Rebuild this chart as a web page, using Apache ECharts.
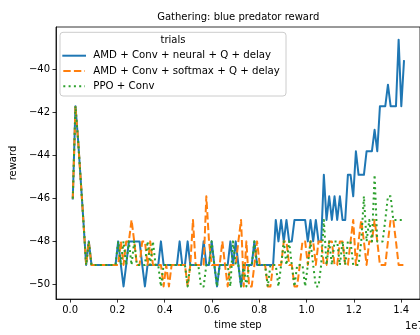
<!DOCTYPE html>
<html><head><meta charset="utf-8">
<script src="https://cdn.jsdelivr.net/npm/echarts@6/dist/echarts.min.js"></script>
<style>html,body{margin:0;padding:0;background:#fff}#c{width:420px;height:335px}</style>
</head><body><div id="c"></div>
<script>
// time step in units of 1e7
const timeStep = [
0.0110,0.0223,0.0336,0.0449,0.0562,0.0675,0.0788,0.0901,0.1014,0.1127,
0.1240,0.1353,0.1466,0.1579,0.1692,0.1805,0.1918,0.2031,0.2144,0.2257,
0.2370,0.2483,0.2596,0.2709,0.2822,0.2935,0.3048,0.3161,0.3274,0.3387,
0.3500,0.3613,0.3726,0.3839,0.3952,0.4065,0.4178,0.4291,0.4404,0.4517,
0.4630,0.4743,0.4856,0.4969,0.5082,0.5195,0.5308,0.5421,0.5534,0.5647,
0.5760,0.5873,0.5986,0.6099,0.6212,0.6325,0.6438,0.6551,0.6664,0.6777,
0.6890,0.7003,0.7116,0.7229,0.7342,0.7455,0.7568,0.7681,0.7794,0.7907,
0.8020,0.8133,0.8246,0.8359,0.8472,0.8585,0.8698,0.8811,0.8924,0.9037,
0.9150,0.9263,0.9376,0.9489,0.9602,0.9715,0.9828,0.9941,1.0054,1.0167,
1.0280,1.0393,1.0506,1.0619,1.0732,1.0845,1.0958,1.1071,1.1184,1.1297,
1.1410,1.1523,1.1636,1.1749,1.1862,1.1975,1.2088,1.2201,1.2314,1.2427,
1.2540,1.2653,1.2766,1.2879,1.2992,1.3105,1.3218,1.3331,1.3444,1.3557,
1.3670,1.3783,1.3896,1.4009,1.4122];

const seriesNames = ['AMD + Conv + neural + Q + delay', 'AMD + Conv + softmax + Q + delay', 'PPO + Conv'];

const rewardNeural = [
-46.0,-41.7,-43.3,-45.2,-47.1,-49.1,-48.0,-49.1,-49.1,-49.1,
-49.1,-49.1,-49.1,-49.1,-49.1,-49.1,-49.1,-48.0,-49.1,-50.1,
-49.1,-48.0,-48.0,-48.0,-48.0,-48.0,-49.1,-50.1,-49.1,-49.1,
-49.1,-49.1,-49.1,-48.0,-49.1,-49.1,-49.1,-49.1,-49.1,-49.1,
-48.0,-49.1,-49.1,-48.0,-49.1,-49.1,-49.1,-49.1,-49.1,-48.0,
-49.1,-49.1,-48.0,-49.1,-50.1,-49.1,-49.1,-49.1,-49.1,-48.0,
-49.1,-48.0,-49.1,-50.1,-49.1,-49.1,-49.1,-49.1,-48.0,-49.1,
-49.1,-49.1,-49.1,-49.1,-49.1,-49.1,-47.0,-48.0,-47.0,-48.0,
-47.0,-48.0,-48.0,-47.0,-47.0,-47.0,-47.0,-47.0,-48.0,-47.0,
-48.0,-47.0,-48.0,-48.0,-44.9,-47.0,-45.9,-47.0,-45.9,-47.0,
-45.9,-47.0,-47.0,-44.9,-44.9,-45.9,-43.8,-44.9,-44.9,-44.9,
-43.8,-43.8,-43.8,-42.8,-43.8,-41.7,-41.7,-41.7,-40.7,-41.7,
-41.7,-41.7,-38.6,-41.7,-39.6];

const rewardSoftmax = [
-46.0,-41.7,-43.3,-45.2,-47.1,-49.1,-48.0,-49.1,-49.1,-49.1,
-49.1,-49.1,-49.1,-49.1,-49.1,-49.1,-49.1,-49.1,-48.0,-49.1,
-48.0,-48.0,-47.0,-48.0,-49.1,-49.1,-48.0,-48.0,-49.1,-48.0,
-49.1,-49.1,-49.1,-49.1,-50.1,-49.1,-50.1,-49.1,-49.1,-49.1,
-49.1,-49.1,-49.1,-50.1,-49.1,-47.0,-49.1,-49.1,-49.1,-49.1,
-45.9,-48.0,-49.1,-49.1,-49.1,-49.1,-48.0,-49.1,-50.1,-49.1,
-49.1,-49.1,-48.0,-47.0,-50.1,-48.0,-50.1,-50.1,-49.1,-48.0,
-49.1,-49.1,-49.1,-50.1,-50.1,-49.1,-49.1,-49.1,-49.1,-48.0,
-48.0,-49.1,-49.1,-50.1,-50.1,-49.1,-48.0,-48.0,-49.1,-48.0,
-48.0,-49.1,-48.0,-48.0,-49.1,-49.1,-48.0,-48.0,-49.1,-49.1,
-48.0,-48.0,-49.1,-49.1,-48.0,-47.0,-49.1,-48.0,-47.0,-48.0,
-49.1,-48.0,-48.0,-47.0,-48.0,-49.1,-49.1,-49.1,-48.0,-47.0,
-47.0,-48.0,-49.1,-49.1,-49.1];

const rewardPPO = [
-46.0,-41.7,-43.3,-45.2,-47.1,-49.1,-48.0,-49.1,-49.1,-49.1,
-49.1,-49.1,-49.1,-49.1,-49.1,-49.1,-49.1,-48.0,-49.1,-48.0,
-49.1,-48.0,-49.1,-48.0,-49.1,-49.1,-49.1,-49.1,-48.0,-49.1,
-48.0,-49.1,-49.1,-50.1,-49.1,-49.1,-49.1,-49.1,-49.1,-49.1,
-49.1,-49.1,-49.1,-50.1,-49.1,-49.1,-49.1,-49.1,-50.1,-50.1,
-49.1,-49.1,-48.0,-49.1,-50.1,-49.1,-49.1,-49.1,-49.1,-50.1,
-48.0,-49.1,-49.1,-50.1,-49.1,-50.1,-49.1,-49.1,-48.0,-49.1,
-49.1,-49.1,-49.1,-50.1,-49.1,-49.1,-49.1,-50.1,-49.1,-48.0,
-49.1,-48.0,-49.1,-50.1,-49.1,-49.1,-49.1,-50.1,-49.1,-48.0,
-49.1,-50.1,-50.1,-49.1,-47.0,-49.1,-48.0,-49.1,-48.0,-48.0,
-49.1,-48.0,-49.1,-48.0,-48.0,-49.1,-49.1,-49.1,-48.0,-45.9,
-48.0,-47.0,-48.0,-44.9,-48.0,-48.0,-48.0,-47.0,-45.9,-45.9,
-47.0,-47.0,-47.0,-47.0,-47.0];

const xTicks = [0.0, 0.2, 0.4, 0.6, 0.8, 1.0, 1.2, 1.4];
const yTicks = [-50, -48, -46, -44, -42, -40];

const colors = ['#1f77b4', '#ff7f0e', '#2ca02c'];
const dashes = ['solid', [7.4, 3.2], [2, 3.3]];
const caps = ['square', 'butt', 'butt'];
const FONT = 'DejaVu Sans';

const allValues = [rewardNeural, rewardSoftmax, rewardPPO];
const series = allValues.map((vals, k) => ({
  name: seriesNames[k],
  type: 'line',
  data: timeStep.map((t, i) => [t, vals[i]]),
  showSymbol: false,
  symbol: 'none',
  lineStyle: { color: colors[k], width: 2, type: dashes[k], cap: caps[k], join: 'round' },
  itemStyle: { color: colors[k] },
  z: 2 + k
}));

const minus = v => (v < 0 ? '\u2212' + Math.abs(v) : String(v));

// legend drawn as graphics (line handles + labels)
const legendTop = 32.3, legendLeft = 60;
const legendRows = [55.7, 71.0, 86.3];
const legendGraphics = [
  { type: 'rect', shape: { x: legendLeft, y: legendTop, width: 226, height: 63.7, r: 3 },
    style: { fill: 'rgba(255,255,255,0.8)', stroke: '#cccccc', lineWidth: 1 }, z: 100 },
  { type: 'text', x: 173, y: 40.7, style: { text: 'trials', font: '10px "' + FONT + '"', fill: '#000', align: 'center', verticalAlign: 'middle' }, z: 101 }
];
seriesNames.forEach((n, k) => {
  legendGraphics.push({
    type: 'line', shape: { x1: 63.3, y1: legendRows[k], x2: 85, y2: legendRows[k] },
    style: { stroke: colors[k], lineWidth: 2, lineDash: k === 0 ? null : dashes[k], lineCap: caps[k] }, z: 101
  });
  legendGraphics.push({
    type: 'text', x: 93.3, y: legendRows[k],
    style: { text: n, font: '10.2px "' + FONT + '"', fill: '#000', align: 'left', verticalAlign: 'middle' }, z: 101
  });
});

const chart = echarts.init(document.getElementById('c'), null, { renderer: 'canvas' });
chart.setOption({
  animation: false,
  backgroundColor: '#fff',
  textStyle: { fontFamily: FONT },
  grid: { left: 55, top: 27, width: 366.5, height: 274, show: true, borderColor: '#000', borderWidth: 0.8, backgroundColor: 'transparent' },
  xAxis: {
    type: 'value', min: -0.06, max: 1.48,
    name: 'time step', nameLocation: 'middle', nameGap: 20,
    nameTextStyle: { fontSize: 10, color: '#000', fontFamily: FONT },
    axisLine: { show: true, onZero: false, lineStyle: { color: '#000', width: 0.8 } },
    axisTick: { show: true, length: 3.5, lineStyle: { color: '#000', width: 0.8 }, customValues: xTicks },
    axisLabel: { customValues: xTicks, margin: 6, fontSize: 10, color: '#000', fontFamily: FONT, formatter: v => v.toFixed(1) },
    splitLine: { show: false }
  },
  yAxis: {
    type: 'value', min: -50.69, max: -38.01,
    name: 'reward', nameLocation: 'middle', nameGap: 30, nameRotate: 90,
    nameTextStyle: { fontSize: 10, color: '#000', fontFamily: FONT },
    axisLine: { show: true, onZero: false, lineStyle: { color: '#000', width: 0.8 } },
    axisTick: { show: true, length: 3.5, lineStyle: { color: '#000', width: 0.8 }, customValues: yTicks },
    axisLabel: { customValues: yTicks, margin: 6, fontSize: 10, color: '#000', fontFamily: FONT, formatter: minus },
    splitLine: { show: false }
  },
  series: series,
  graphic: [
    { type: 'text', x: 238.25, y: 17, style: { text: 'Gathering: blue predator reward', font: '10px "' + FONT + '"', fill: '#000', align: 'center', verticalAlign: 'middle' }, z: 101 },
    { type: 'text', x: 405, y: 326, style: { text: '1e7', font: '10px "' + FONT + '"', fill: '#000', align: 'left', verticalAlign: 'middle' }, z: 101 }
  ].concat(legendGraphics)
});
</script>
</body></html>
